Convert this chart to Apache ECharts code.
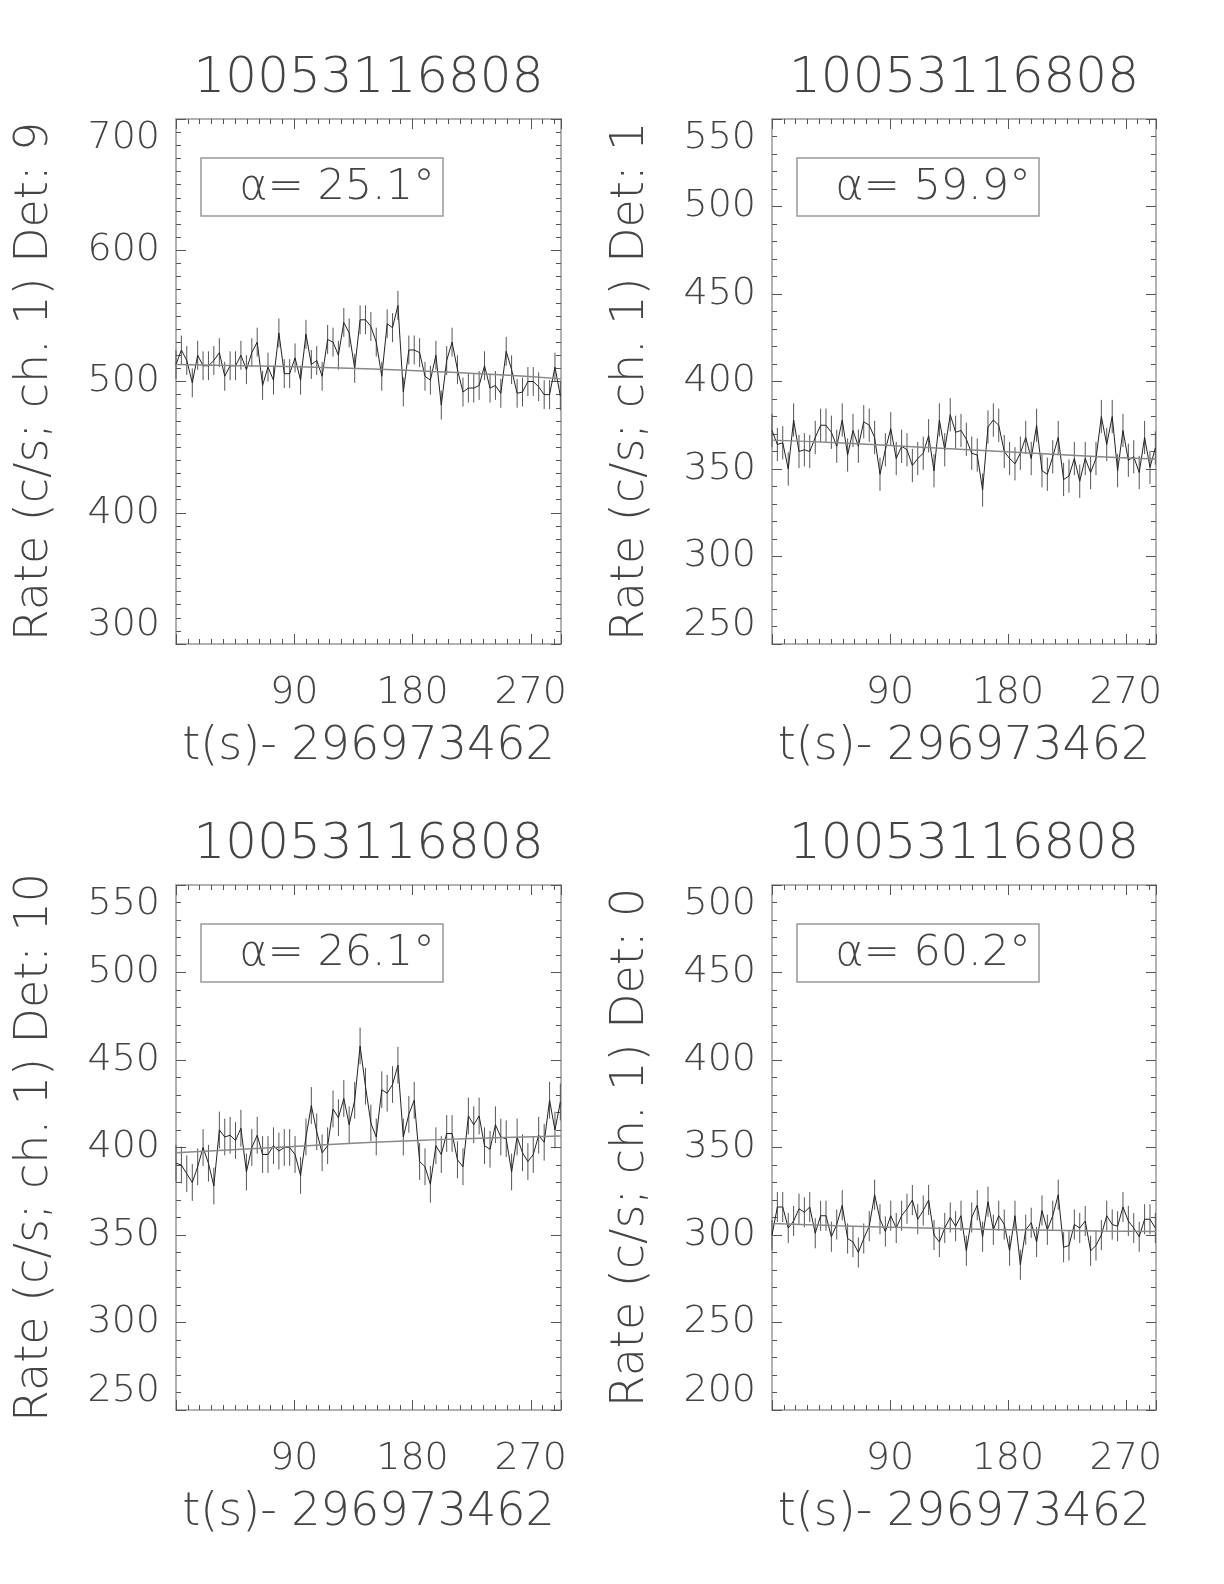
<!DOCTYPE html>
<html>
<head>
<meta charset="utf-8">
<title>10053116808 light curves</title>
<script src="https://cdn.jsdelivr.net/npm/echarts@6/dist/echarts.min.js"></script>
<style>
  html, body { margin: 0; padding: 0; background: #fff; }
  #chart { width: 1224px; height: 1584px; }
</style>
</head>
<body>
<div id="chart"></div>
<script>
// bin times, s since 296973462
var times = [0.0, 4.1, 8.2, 12.4, 16.5, 20.6, 24.7, 28.8, 33.0, 37.1, 41.2, 45.3, 49.4, 53.6, 57.7, 61.8,
  65.9, 70.0, 74.2, 78.3, 82.4, 86.5, 90.6, 94.8, 98.9, 103.0, 107.1, 111.2, 115.4, 119.5, 123.6, 127.7,
  131.8, 136.0, 140.1, 144.2, 148.3, 152.4, 156.6, 160.7, 164.8, 168.9, 173.0, 177.2, 181.3, 185.4, 189.5,
  193.6, 197.8, 201.9, 206.0, 210.1, 214.2, 218.4, 222.5, 226.6, 230.7, 234.8, 239.0, 243.1, 247.2, 251.3,
  255.4, 259.6, 263.7, 267.8, 271.9, 276.0, 280.2, 284.3, 288.4, 292.5];

// count rates, channel 1
var rateDet9 = [513, 524, 516, 499, 520, 512, 512, 516, 522, 504, 512, 512, 520, 509, 522, 530, 497, 511, 501, 537,
  506, 506, 518, 501, 536, 513, 516, 504, 532, 530, 520, 545, 537, 510, 547, 547, 542, 530, 504, 544,
  541, 558, 492, 524, 524, 522, 504, 501, 520, 482, 516, 530, 509, 492, 495, 495, 497, 512, 495, 497,
  491, 523, 509, 491, 492, 500, 500, 496, 490, 490, 511, 489];
var rateDet1 = [372, 364, 365, 350, 378, 360, 361, 360, 368, 375, 375, 371, 363, 378, 358, 372, 363, 377, 375, 368,
  347, 361, 373, 356, 363, 361, 352, 356, 359, 369, 349, 378, 361, 381, 371, 372, 367, 359, 358, 338,
  374, 378, 375, 360, 356, 353, 359, 368, 356, 375, 349, 347, 357, 368, 344, 346, 356, 343, 356, 348,
  356, 380, 364, 380, 349, 372, 355, 357, 348, 368, 351, 362];
var rateDet10 = [391, 390, 385, 380, 389, 400, 391, 378, 410, 406, 407, 404, 411, 386, 400, 407, 396, 396, 401, 398,
  400, 400, 396, 384, 406, 424, 409, 397, 401, 422, 417, 428, 413, 427, 458, 435, 414, 406, 433, 431,
  436, 447, 406, 419, 427, 392, 389, 379, 401, 396, 408, 408, 393, 389, 418, 413, 418, 401, 399, 413,
  406, 405, 386, 406, 397, 392, 396, 407, 403, 427, 410, 426];
var rateDet0 = [300, 316, 316, 304, 308, 315, 313, 316, 301, 311, 311, 299, 306, 317, 298, 296, 290, 298, 305, 323,
  309, 302, 311, 304, 311, 315, 320, 309, 314, 320, 300, 296, 304, 310, 305, 311, 291, 310, 317, 299,
  319, 303, 311, 306, 291, 311, 283, 303, 307, 296, 314, 303, 311, 323, 293, 294, 306, 304, 308, 291,
  294, 300, 311, 306, 305, 316, 308, 304, 299, 309, 309, 304];

// 1-sigma error (c/s) per detector
var errDet9 = 11, errDet1 = 9.5, errDet10 = 10.5, errDet0 = 8.6;

// background fit
var fitTimes = [0, 50, 100, 150, 200, 250, 293];
var fitDet9 = [513, 512, 511, 509.5, 507.5, 505, 502];
var fitDet1 = [366.5, 365, 363, 361, 359, 357, 355.7];
var fitDet10 = [397, 399, 401, 403, 404.5, 405.7, 406.6];
var fitDet0 = [306.6, 305.3, 304.3, 303.4, 302.8, 302.3, 302];

var xTicks = [90, 180, 270];
var burstName = '10053116808';
var xName = 't(s)- 296973462';

var panels = [
  { det: '9', alpha: '25.1', rate: rateDet9, err: errDet9, fit: fitDet9, yMin: 300, yMax: 700, yStep: 100, ySplit: 10, left: 176, top: 119, width: 385 },
  { det: '1', alpha: '59.9', rate: rateDet1, err: errDet1, fit: fitDet1, yMin: 250, yMax: 550, yStep: 50, ySplit: 5, left: 772, top: 119, width: 384 },
  { det: '10', alpha: '26.1', rate: rateDet10, err: errDet10, fit: fitDet10, yMin: 250, yMax: 550, yStep: 50, ySplit: 5, left: 176, top: 885, width: 385 },
  { det: '0', alpha: '60.2', rate: rateDet0, err: errDet0, fit: fitDet0, yMin: 200, yMax: 500, yStep: 50, ySplit: 5, left: 772, top: 885, width: 384 }
];

var FONT = "'DejaVu Sans', sans-serif";
var TXT = '#444';
var frame = { color: '#999', width: 1.5 };
var tickStyle = { color: '#555', width: 1 };
var PH = 525;

var grids = [], xAxes = [], yAxes = [], series = [], graphics = [];

function errorBar(params, api) {
  var a = api.coord([api.value(0), api.value(1)]);
  var b = api.coord([api.value(0), api.value(2)]);
  return {
    type: 'line',
    shape: { x1: a[0], y1: a[1], x2: b[0], y2: b[1] },
    style: { stroke: '#555', lineWidth: 1 }
  };
}

panels.forEach(function (p, k) {
  grids.push({ left: p.left, top: p.top, width: p.width, height: PH });

  var xBase = { gridIndex: k, type: 'value', min: 0, max: 293, splitLine: { show: false } };
  // bottom major
  xAxes.push(Object.assign({}, xBase, {
    position: 'bottom', interval: 90,
    axisLine: { show: true, onZero: false, lineStyle: frame },
    axisTick: { show: true, inside: true, length: 10, lineStyle: tickStyle },
    axisLabel: {
      show: true, margin: 30, fontSize: 38, color: TXT, fontFamily: FONT, fontWeight: 200,
      formatter: function (v) { return xTicks.indexOf(v) >= 0 ? String(v) : ''; }
    },
    name: xName, nameLocation: 'middle', nameGap: 80,
    nameTextStyle: { fontSize: 46, color: TXT, fontFamily: FONT, fontWeight: 200 }
  }));
  // bottom minor
  xAxes.push(Object.assign({}, xBase, {
    position: 'bottom', interval: 9,
    axisLine: { show: false, onZero: false },
    axisTick: { show: true, inside: true, length: 5, lineStyle: tickStyle },
    axisLabel: { show: false }
  }));
  // top major
  xAxes.push(Object.assign({}, xBase, {
    position: 'top', interval: 90,
    axisLine: { show: true, onZero: false, lineStyle: frame },
    axisTick: { show: true, inside: true, length: 10, lineStyle: tickStyle },
    axisLabel: { show: false }
  }));
  // top minor
  xAxes.push(Object.assign({}, xBase, {
    position: 'top', interval: 9,
    axisLine: { show: false, onZero: false },
    axisTick: { show: true, inside: true, length: 5, lineStyle: tickStyle },
    axisLabel: { show: false }
  }));

  var yBase = {
    gridIndex: k, type: 'value', min: p.yMin, max: p.yMax, interval: p.yStep,
    axisLine: { show: true, onZero: false, lineStyle: frame },
    axisTick: { show: true, inside: true, length: 10, lineStyle: tickStyle },
    minorTick: { show: true, splitNumber: p.ySplit, length: 5, lineStyle: tickStyle },
    splitLine: { show: false }, minorSplitLine: { show: false }
  };
  yAxes.push(Object.assign({}, yBase, {
    position: 'left',
    axisLabel: {
      show: true, margin: 16, fontSize: 38, color: TXT, fontFamily: FONT, fontWeight: 200,
      verticalAlignMaxLabel: 'top', verticalAlignMinLabel: 'bottom'
    },
    name: 'Rate (c/s; ch. 1) Det: ' + p.det, nameLocation: 'middle', nameGap: 118, nameRotate: 90,
    nameTextStyle: { fontSize: 46, color: TXT, fontFamily: FONT, fontWeight: 200 }
  }));
  yAxes.push(Object.assign({}, yBase, { position: 'right', axisLabel: { show: false } }));

  var xi = k * 4, yi = k * 2;
  series.push({
    type: 'custom', xAxisIndex: xi, yAxisIndex: yi, renderItem: errorBar, silent: true,
    data: times.map(function (t, i) { return [t, p.rate[i] - p.err, p.rate[i] + p.err]; })
  });
  series.push({
    type: 'line', xAxisIndex: xi, yAxisIndex: yi, symbol: 'none', silent: true,
    lineStyle: { color: '#222', width: 1 },
    data: times.map(function (t, i) { return [t, p.rate[i]]; })
  });
  series.push({
    type: 'line', xAxisIndex: xi, yAxisIndex: yi, symbol: 'none', silent: true, smooth: true,
    lineStyle: { color: '#888', width: 1.5 },
    data: fitTimes.map(function (t, i) { return [t, p.fit[i]]; })
  });

  // panel title
  graphics.push({
    type: 'text', x: p.left + p.width / 2, y: p.top - 40,
    style: { text: burstName, fontSize: 50, fontFamily: FONT, fontWeight: 200, fill: TXT, align: 'center', verticalAlign: 'middle' }
  });
  // angle box
  graphics.push({
    type: 'rect', shape: { x: p.left + 25, y: p.top + 39, width: 242, height: 58 },
    style: { fill: 'none', stroke: '#999', lineWidth: 1.5 }
  });
  graphics.push({
    type: 'text', x: p.left + 161, y: p.top + 69,
    style: { text: 'α= ' + p.alpha + '°', fontSize: 43, fontFamily: FONT, fontWeight: 200, fill: TXT, align: 'center', verticalAlign: 'middle' }
  });
});

var chart = echarts.init(document.getElementById('chart'));
chart.setOption({
  backgroundColor: '#fff',
  animation: false,
  grid: grids,
  xAxis: xAxes,
  yAxis: yAxes,
  series: series,
  graphic: graphics
});
</script>
</body>
</html>
